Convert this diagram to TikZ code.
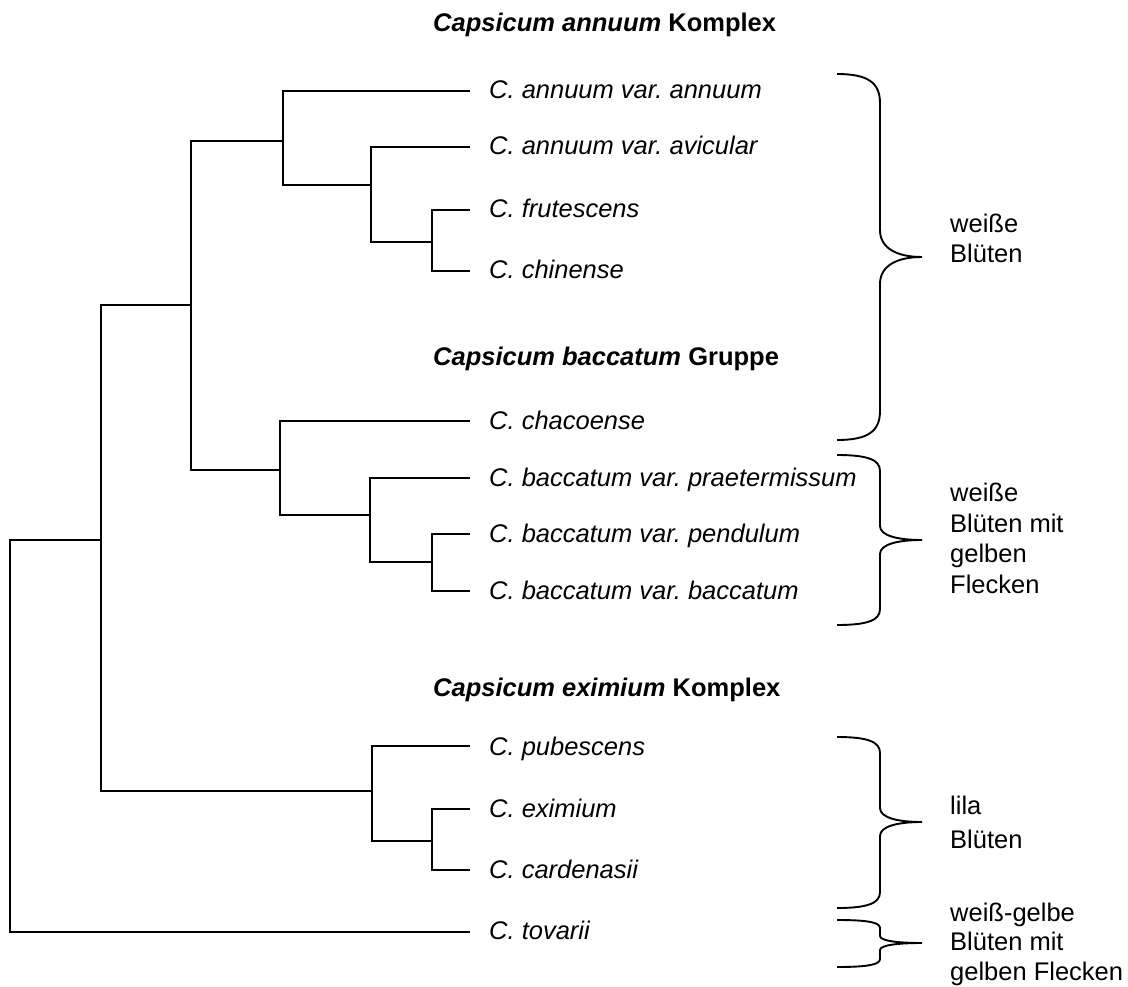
\documentclass[tikz,border=0pt]{standalone}
\usepackage{fontspec}
\setmainfont{Liberation Sans}
\frenchspacing
\newcommand\bracepath[5]{% #1 top, #2 tip, #3 bottom, #4 end radius, #5 tip radius
  \draw[brace] (837,#1) .. controls (868,#1) and (880,#1+0.3*#4) .. (880,#1+#4)
    -- (880,#2-#5) .. controls (880,#2-0.3*#5) and (898,#2) .. (922,#2)
    .. controls (898,#2) and (880,#2+0.3*#5) .. (880,#2+#5)
    -- (880,#3-#4) .. controls (880,#3-0.3*#4) and (868,#3) .. (837,#3);}
\begin{document}
\begin{tikzpicture}[x=1pt,y=-1pt,
  tree/.style={line width=2.2pt, line join=miter},
  brace/.style={line width=1.9pt},
  leaf/.style={anchor=base west, inner sep=0pt, font=\fontsize{25.5}{30.5}\selectfont\itshape},
  head/.style={anchor=base west, inner sep=0pt, font=\fontsize{25.5}{30.5}\selectfont\bfseries},
  lab/.style={anchor=base west, inner sep=0pt, align=left, font=\fontsize{25.5}{30.5}\selectfont}]
\useasboundingbox (0,0) rectangle (1128,987);

% headers
\node[head] (hAnn) at (433,32) {\itshape Capsicum annuum\/ \upshape Komplex};
\node[head] (hBac) at (433,365) {\itshape Capsicum baccatum\/ \upshape Gruppe};
\node[head] (hExi) at (433,696) {\itshape Capsicum eximium\/ \upshape Komplex};

% inner nodes
\coordinate (R)   at (10,736);
\coordinate (N1)  at (101,540);
\coordinate (N2)  at (191,305);
\coordinate (N3)  at (283,141);
\coordinate (N4)  at (371,185);
\coordinate (N4b) at (432,242);
\coordinate (N5)  at (280,470);
\coordinate (N5a) at (370,515);
\coordinate (N5b) at (432,562);
\coordinate (N6)  at (372,791);
\coordinate (N6b) at (432,841);

% leaf ends and labels
\coordinate (lAnn) at (470,91);  \node[leaf] (tAnn) at (489,99)  {C. annuum var. annuum};
\coordinate (lAvi) at (470,147); \node[leaf] (tAvi) at (489,155) {C. annuum var. avicular};
\coordinate (lFru) at (470,210); \node[leaf] (tFru) at (489,218) {C. frutescens};
\coordinate (lChi) at (470,271); \node[leaf] (tChi) at (489,279) {C. chinense};
\coordinate (lCha) at (470,421); \node[leaf] (tCha) at (489,429) {C. chacoense};
\coordinate (lPra) at (470,478); \node[leaf] (tPra) at (489,486) {C. baccatum var. praetermissum};
\coordinate (lPen) at (470,534); \node[leaf] (tPen) at (489,542) {C. baccatum var. pendulum};
\coordinate (lBac) at (470,591); \node[leaf] (tBac) at (489,599) {C. baccatum var. baccatum};
\coordinate (lPub) at (470,746); \node[leaf] (tPub) at (489,755) {C. pubescens};
\coordinate (lExi) at (470,809); \node[leaf] (tExi) at (489,817) {C. eximium};
\coordinate (lCar) at (470,870); \node[leaf] (tCar) at (489,878) {C. cardenasii};
\coordinate (lTov) at (470,932); \node[leaf] (tTov) at (489,939) {C. tovarii};

% tree
\draw[tree] (R) |- (N1);   \draw[tree] (R) |- (lTov);
\draw[tree] (N1) |- (N2);  \draw[tree] (N1) |- (N6);
\draw[tree] (N2) |- (N3);  \draw[tree] (N2) |- (N5);
\draw[tree] (N3) |- (lAnn); \draw[tree] (N3) |- (N4);
\draw[tree] (N4) |- (lAvi); \draw[tree] (N4) |- (N4b);
\draw[tree] (N4b) |- (lFru); \draw[tree] (N4b) |- (lChi);
\draw[tree] (N5) |- (lCha); \draw[tree] (N5) |- (N5a);
\draw[tree] (N5a) |- (lPra); \draw[tree] (N5a) |- (N5b);
\draw[tree] (N5b) |- (lPen); \draw[tree] (N5b) |- (lBac);
\draw[tree] (N6) |- (lPub); \draw[tree] (N6) |- (N6b);
\draw[tree] (N6b) |- (lExi); \draw[tree] (N6b) |- (lCar);

% braces
\bracepath{74}{257}{440}{29}{27}
\bracepath{455}{540}{625}{16}{14}
\bracepath{737}{822}{908}{16}{14}
\bracepath{920}{943}{967}{8}{7}
\coordinate (b1) at (922,257);
\coordinate (b2) at (922,540);
\coordinate (b3) at (922,822);
\coordinate (b4) at (922,943);

% brace labels (base anchor = last line)
\node[lab] (g1) at (950,263) {weiße\\Blüten};
\node[lab] (g2) at (950,593) {weiße\\Blüten mit\\gelben\\Flecken};
\node[lab, font=\fontsize{25.5}{34}\selectfont] (g3) at (950,848) {lila\\Blüten};
\node[lab, font=\fontsize{25.5}{29.5}\selectfont] (g4) at (950,980) {weiß-gelbe\\Blüten mit\\gelben Flecken};
\end{tikzpicture}
\end{document}
